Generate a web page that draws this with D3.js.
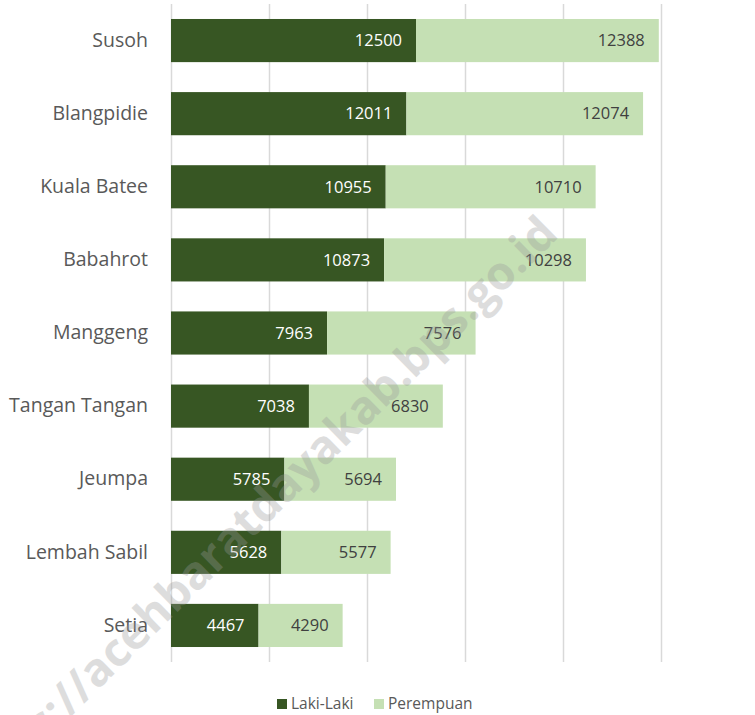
<!DOCTYPE html>
<html>
<head>
<meta charset="utf-8">
<script src="https://cdnjs.cloudflare.com/ajax/libs/d3/7.8.5/d3.min.js"></script>
<style>
  body { margin: 0; background: #fff; }
  svg { font-family: "Open Sans", "Noto Sans", sans-serif; }
  .cat { font-size: 19.5px; fill: #595959; }
  .val { font-size: 16.5px; }
  .leg { font-size: 15.5px; fill: #595959; }
</style>
</head>
<body>
<div id="chart"></div>
<script>
// Data
var categories = ["Susoh", "Blangpidie", "Kuala Batee", "Babahrot", "Manggeng",
                  "Tangan Tangan", "Jeumpa", "Lembah Sabil", "Setia"];
var lakiLaki  = [12500, 12011, 10955, 10873, 7963, 7038, 5785, 5628, 4467];
var perempuan = [12388, 12074, 10710, 10298, 7576, 6830, 5694, 5577, 4290];
var seriesNames = ["Laki-Laki", "Perempuan"];
var gridTicks = [0, 5000, 10000, 15000, 20000, 25000];

var w = 755, h = 715;
var colors = ["#375623", "#c5e0b4"];
var textColors = ["#ffffff", "#404040"];

var svg = d3.select("#chart").append("svg")
    .attr("width", w)
    .attr("height", h);

var x = d3.scaleLinear().domain([0, 25000]).range([171, 661]);
var y = d3.scaleBand().domain(categories).range([4, 662]).paddingInner(0.41).paddingOuter(0.205);

// gridlines
svg.selectAll("line.grid")
  .data(gridTicks)
  .enter()
  .append("line")
  .attr("class", "grid")
  .attr("x1", function(d) { return Math.round(x(d)) + 0.5; })
  .attr("x2", function(d) { return Math.round(x(d)) + 0.5; })
  .attr("y1", 4)
  .attr("y2", 662)
  .attr("stroke", "#d9d9d9")
  .attr("stroke-width", 1.5);

// stack rows
var rows = categories.map(function(c, i) {
  return { cat: c, vals: [lakiLaki[i], perempuan[i]] };
});

rows.forEach(function(r) {
  var x0 = 0;
  r.vals.forEach(function(v, k) {
    var g = svg.append("g");
    g.append("rect")
      .attr("x", x(x0))
      .attr("y", y(r.cat))
      .attr("width", x(x0 + v) - x(x0))
      .attr("height", y.bandwidth())
      .attr("fill", colors[k]);
    g.append("text")
      .attr("class", "val")
      .attr("x", x(x0 + v) - 14)
      .attr("y", y(r.cat) + y.bandwidth() / 2)
      .attr("dy", "0.35em")
      .attr("text-anchor", "end")
      .attr("fill", textColors[k])
      .text(v);
    x0 += v;
  });
});

// category axis
var yAxis = svg.append("g")
  .attr("transform", "translate(171,0)")
  .call(d3.axisLeft(y).tickSize(0).tickPadding(23));
yAxis.attr("font-family", null).attr("font-size", null);
yAxis.select(".domain").remove();
yAxis.selectAll("text").attr("class", "cat").attr("fill", null);

// legend
var legX = [277, 374];
var leg = svg.selectAll("g.legend")
  .data(seriesNames)
  .enter()
  .append("g")
  .attr("class", "legend")
  .attr("transform", function(d, i) { return "translate(" + legX[i] + ",699)"; });
leg.append("rect")
  .attr("width", 10)
  .attr("height", 10)
  .attr("fill", function(d, i) { return colors[i]; });
leg.append("text")
  .attr("class", "leg")
  .attr("x", 14)
  .attr("y", 5)
  .attr("dy", "0.35em")
  .text(function(d) { return d; });

// watermark
svg.append("text")
  .attr("transform", "translate(560,236) rotate(-44.5)")
  .attr("text-anchor", "end")
  .attr("font-size", 46)
  .attr("font-weight", "bold")
  .attr("fill", "#999")
  .attr("opacity", 0.33)
  .text("https://acehbaratdayakab.bps.go.id");
</script>
</body>
</html>
